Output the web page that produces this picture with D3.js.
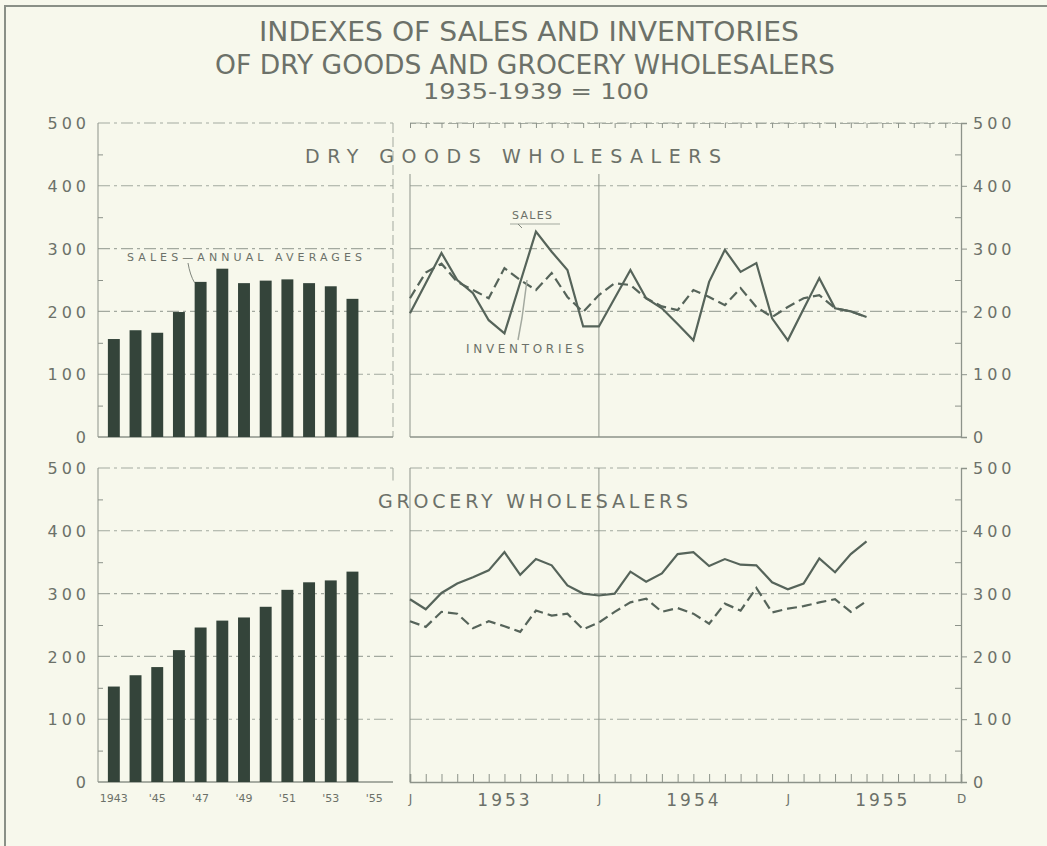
<!DOCTYPE html>
<html><head><meta charset="utf-8">
<script src="https://cdn.jsdelivr.net/npm/d3@7"></script>
<style>
html,body{margin:0;padding:0;background:#f7f8ec;}
svg{display:block;}
text{font-family:"DejaVu Sans",sans-serif;fill:#6c7169;}
</style></head><body>
<svg id="chart" width="1047" height="846"></svg>
<script>
// ---------- DATA ----------
const titleLines = ["INDEXES OF SALES AND INVENTORIES", "OF DRY GOODS AND GROCERY WHOLESALERS", "1935-1939 = 100"];
const panelTitles = ["DRY GOODS WHOLESALERS", "GROCERY WHOLESALERS"];
const barYears = [1943,1944,1945,1946,1947,1948,1949,1950,1951,1952,1953,1954];
const barAxisYears = [1943,1944,1945,1946,1947,1948,1949,1950,1951,1952,1953,1954,1955];
const dryBarValues = [156,170,166,199,247,268,245,249,251,245,240,220];
const groceryBarValues = [152,170,183,210,246,257,262,279,306,318,321,335];
const barTickYears = [1943,1945,1947,1949,1951,1953,1955];
const barTickLabels = ["1943","'45","'47","'49","'51","'53","'55"];
// monthly, index 0 = Jan 1953
const drySales = [197,245,293,250,229,186,165,246,327,295,266,176,176,221,266,221,205,180,154,247,298,263,277,189,154,204,253,205,200,191];
const dryInventories = [221,262,276,247,234,221,269,250,234,261,223,199,226,245,242,221,208,202,234,223,210,237,207,191,207,221,226,205,200,191];
const grocerySales = [291,275,301,316,326,337,366,330,355,345,313,300,297,300,335,319,332,363,366,344,355,346,345,318,307,316,356,334,363,383];
const groceryInventories = [256,247,271,268,245,256,248,239,273,265,268,243,254,271,286,292,271,277,268,252,284,273,309,270,276,280,286,291,271,288];
const monthTickValues = [0,6,12,18,24,30,35];
const monthTickLabels = ["J","1953","J","1954","J","1955","D"];
const yTickValues = [0,100,200,300,400,500];
const yMinorValues = [50,150,250,350,450];
const yGridValues = [100,200,300,400,500];

// ---------- LAYOUT ----------
const svg = d3.select("#chart");
const C = {bg:"#f7f8ec", text:"#6c7169", grid:"#a3a99f", bar:"#34443a", line:"#56645a", frame:"#8d938a"};
svg.append("rect").attr("width",1047).attr("height",846).attr("fill",C.bg);
// outer frame (left and top visible)
svg.append("path").attr("d","M5,846V6H1047").attr("fill","none").attr("stroke","#8a9087").attr("stroke-width",2);

// titles
const titleSpec = [{x:529,y:41,fs:27,w:540},{x:525,y:74,fs:27,w:620},{x:536,y:99,fs:21,w:226}];
titleLines.forEach((t,i)=>{
  svg.append("text").attr("x",titleSpec[i].x).attr("y",titleSpec[i].y)
    .attr("text-anchor","middle").attr("font-size",titleSpec[i].fs)
    .attr("textLength",titleSpec[i].w).attr("lengthAdjust","spacingAndGlyphs")
    .attr("fill","#727870").text(t);
});

const xLeftL = 98, xLeftR = 393, xRightL = 410, xRightR = 961;
const xBand = d3.scaleBand().domain(barAxisYears).range([103,385]).paddingInner(0.45).paddingOuter(0.225);
const xMonth = d3.scaleLinear().domain([0,35]).range([xRightL,xRightR]);

const rows = [
  {y0:437, y1:123, bars:dryBarValues, sales:drySales, inv:dryInventories, title:panelTitles[0], tx:513, ty:163, tw:416, rightTopY:174},
  {y0:782, y1:468, bars:groceryBarValues, sales:grocerySales, inv:groceryInventories, title:panelTitles[1], tx:533, ty:508, tw:310, rightTopY:468}
];

rows.forEach((r,ri)=>{
  const y = d3.scaleLinear().domain([0,500]).range([r.y0,r.y1]);
  const g = svg.append("g");
  const dash = "12,4,3,4";
  [[xLeftL,xLeftR],[xRightL,xRightR]].forEach(([a,b])=>{
    g.selectAll(null).data(yGridValues).enter().append("line")
      .attr("x1",a).attr("x2",b).attr("y1",d=>y(d)).attr("y2",d=>y(d))
      .attr("stroke",C.grid).attr("stroke-width",1.1).attr("stroke-dasharray",dash);
  });
  // left panel frame
  g.append("line").attr("x1",xLeftL).attr("x2",xLeftL).attr("y1",y(500)).attr("y2",y(0)).attr("stroke",C.frame).attr("stroke-width",1);
  g.append("line").attr("x1",xLeftR).attr("x2",xLeftR).attr("y1",y(500)).attr("y2",ri===0?y(0):y(480))
    .attr("stroke",C.grid).attr("stroke-width",1).attr("stroke-dasharray",ri===0?"10,4":null);
  g.append("line").attr("x1",xLeftL).attr("x2",xLeftR).attr("y1",y(0)).attr("y2",y(0)).attr("stroke",C.frame).attr("stroke-width",1.3);
  // left axis labels
  const la = d3.axisLeft(y).tickValues(yTickValues).tickSize(0).tickPadding(8);
  const lag = g.append("g").attr("transform",`translate(${xLeftL},0)`).call(la);
  lag.select(".domain").remove();
  lag.selectAll("text").attr("font-size",16).attr("letter-spacing",4).attr("font-family","DejaVu Sans").attr("fill","#7a8077").attr("dy","0.35em");
  // left minor ticks (inside)
  const lm = d3.axisRight(y).tickValues(yMinorValues).tickSize(5).tickFormat("");
  const lmg = g.append("g").attr("transform",`translate(${xLeftL},0)`).call(lm);
  lmg.select(".domain").remove();
  lmg.selectAll("line").attr("stroke",C.frame);
  // bars
  g.selectAll(null).data(barYears).enter().append("rect")
    .attr("x",d=>xBand(d)).attr("width",xBand.bandwidth())
    .attr("y",(d,i)=>y(r.bars[i])).attr("height",(d,i)=>y(0)-y(r.bars[i]))
    .attr("fill",C.bar);

  // right panel frame
  g.append("line").attr("x1",xRightL).attr("x2",xRightL).attr("y1",r.rightTopY).attr("y2",y(0)).attr("stroke",C.frame).attr("stroke-width",1);
  g.append("line").attr("x1",xMonth(12)).attr("x2",xMonth(12)).attr("y1",r.rightTopY).attr("y2",y(0)).attr("stroke",C.frame).attr("stroke-width",1);
  // right axis
  const ra = d3.axisRight(y).tickValues(yTickValues).tickSize(6).tickPadding(6);
  const rag = g.append("g").attr("transform",`translate(${xRightR},0)`).call(ra);
  rag.select(".domain").attr("stroke",C.frame).attr("stroke-width",1.3);
  rag.selectAll("line").attr("stroke",C.frame);
  rag.selectAll("text").attr("font-size",16).attr("letter-spacing",4).attr("font-family","DejaVu Sans").attr("fill","#7a8077").attr("dy","0.35em");
  const rm = d3.axisLeft(y).tickValues(yMinorValues).tickSize(6).tickFormat("");
  const rmg = g.append("g").attr("transform",`translate(${xRightR},0)`).call(rm);
  rmg.select(".domain").remove();
  rmg.selectAll("line").attr("stroke",C.frame);
  // monthly ticks
  if(ri===0){
    const ta = d3.axisBottom(xMonth).tickValues(d3.range(0,36)).tickSize(5).tickFormat("");
    const tag = g.append("g").attr("transform",`translate(0,${y(500)})`).call(ta);
    tag.select(".domain").attr("stroke",C.grid).attr("stroke-dasharray","10,4");
    tag.selectAll("line").attr("stroke",C.frame);
    g.append("line").attr("x1",xRightL).attr("x2",xRightR).attr("y1",y(0)).attr("y2",y(0)).attr("stroke",C.frame).attr("stroke-width",1.6);
  } else {
    const ba = d3.axisTop(xMonth).tickValues(d3.range(0,36)).tickSize(8).tickFormat("");
    const bag = g.append("g").attr("transform",`translate(0,${y(0)})`).call(ba);
    bag.select(".domain").attr("stroke",C.frame).attr("stroke-width",1.6);
    bag.selectAll("line").attr("stroke",C.frame);
  }
  // lines
  const ln = d3.line().x((d,i)=>xMonth(i)).y(d=>y(d));
  g.append("path").datum(r.inv).attr("d",ln).attr("fill","none").attr("stroke",C.line).attr("stroke-width",2.2).attr("stroke-dasharray","10,5");
  g.append("path").datum(r.sales).attr("d",ln).attr("fill","none").attr("stroke",C.line).attr("stroke-width",2.2);
  // panel title
  g.append("text").attr("x",r.tx).attr("y",r.ty).attr("text-anchor","middle").attr("font-size",19)
    .attr("textLength",r.tw).attr("lengthAdjust","spacing").attr("fill","#727870").text(r.title);
});

// annotations
const yT = d3.scaleLinear().domain([0,500]).range([437,123]);
svg.append("text").attr("x",127).attr("y",261).attr("font-size",11).attr("textLength",235).attr("lengthAdjust","spacing").attr("fill","#80867d").text("SALES—ANNUAL AVERAGES");
svg.append("path").attr("d",`M188,263 Q190,275 ${xBand(1947)},${yT(dryBarValues[4])+1}`).attr("fill","none").attr("stroke","#80867d").attr("stroke-width",1);
svg.append("text").attr("x",512).attr("y",219).attr("font-size",11).attr("textLength",40).attr("lengthAdjust","spacing").attr("fill","#80867d").text("SALES");
svg.append("line").attr("x1",510).attr("x2",560).attr("y1",224).attr("y2",224).attr("stroke","#a3a99f");
svg.append("line").attr("x1",518).attr("x2",522).attr("y1",224).attr("y2",228).attr("stroke","#80867d");
svg.append("text").attr("x",466).attr("y",353).attr("font-size",12).attr("textLength",118).attr("lengthAdjust","spacing").attr("fill","#80867d").text("INVENTORIES");
svg.append("path").attr("d",`M518,340 L522,318 L527,${yT(dryInventories[7])}`).attr("fill","none").attr("stroke","#a3a99f").attr("stroke-width",1.5);

// bottom axes labels
const bx = d3.axisBottom(xBand).tickValues(barTickYears).tickSize(0).tickPadding(12).tickFormat((d,i)=>barTickLabels[i]);
const bxg = svg.append("g").attr("transform","translate(0,782)").call(bx);
bxg.select(".domain").remove();
bxg.selectAll("text").attr("font-size",11).attr("font-family","DejaVu Sans").attr("fill","#9aa097");

const mx = d3.axisBottom(xMonth).tickValues(monthTickValues).tickSize(0).tickPadding(12).tickFormat((d,i)=>monthTickLabels[i]);
const mxg = svg.append("g").attr("transform","translate(0,782)").call(mx);
mxg.select(".domain").remove();
mxg.selectAll("text").attr("font-family","DejaVu Sans").attr("fill",C.text)
  .attr("font-size",(d,i)=>monthTickLabels[i].length>1?17:12)
  .attr("letter-spacing",(d,i)=>monthTickLabels[i].length>1?3:0);
</script>
</body></html>
